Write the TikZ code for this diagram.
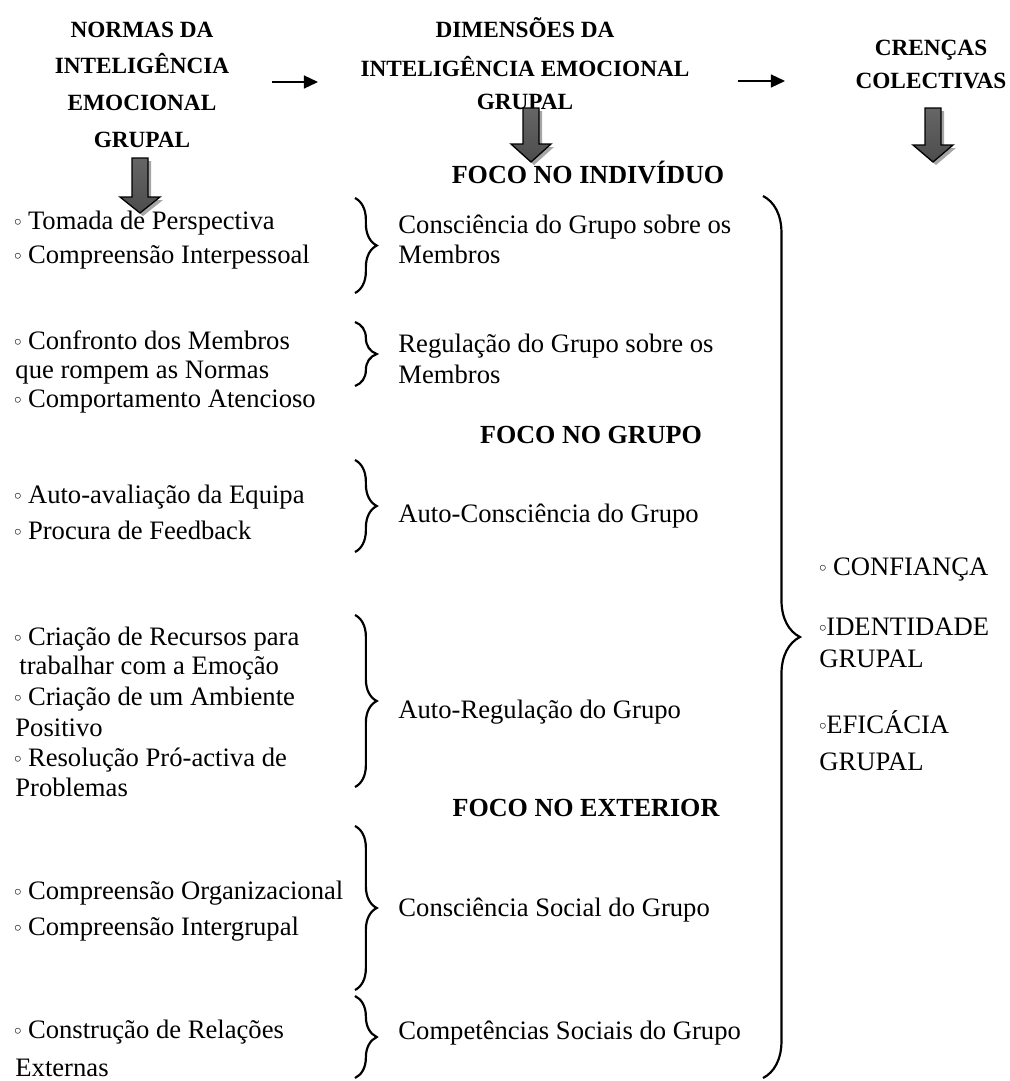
\documentclass[tikz,border=0pt]{standalone}
\usepackage{fontspec}
\setmainfont{Liberation Serif}
\newfontfamily\symfont{DejaVu Sans}
\usetikzlibrary{decorations.pathreplacing,arrows.meta}

\newcommand\bl{\makebox[3.2pt][c]{\symfont\fontsize{9}{9}\selectfont ◦}}

\tikzset{
  head/.style={anchor=base, inner sep=0pt, font=\fontsize{10.7}{12}\selectfont\bfseries},
  foco/.style={anchor=base, inner sep=0pt, font=\fontsize{12}{14}\selectfont\bfseries},
  item/.style={anchor=base west, inner sep=0pt, font=\fontsize{12.25}{14}\selectfont},
  grp/.style={decorate, decoration={brace, amplitude=10pt}, line width=1pt},
  bigbrace/.style={decorate, decoration={brace, amplitude=17pt}, line width=1pt},
  link/.style={-{Triangle[length=6.5pt,width=6pt]}, line width=0.7pt},
  blockshade/.style={draw=black, line width=0.6pt, top color=black!60, middle color=black!95, bottom color=black!70}
}

\begin{document}
\begin{tikzpicture}[x=0.46pt, y=-0.46pt]
\useasboundingbox (0,0) rectangle (1010,1081);

% headers
\foreach \y/\t [count=\k] in {37/NORMAS DA, 73/INTELIGÊNCIA, 110/EMOCIONAL, 147/GRUPAL}
    \node[head] (norm-\k) at (142,\y) {\t};
\foreach \y/\t [count=\k] in {37/DIMENSÕES DA, 76/INTELIGÊNCIA EMOCIONAL, 109/GRUPAL}
    \node[head] (dim-\k) at (525,\y) {\t};
\foreach \y/\t [count=\k] in {55/CRENÇAS, 88/COLECTIVAS}
    \node[head] (cren-\k) at (931,\y) {\t};

\node[foco] (indiv) at (588,183) {FOCO NO INDIVÍDUO};
\node[foco] (grupo) at (591,443) {FOCO NO GRUPO};
\node[foco] (exter) at (586,816) {FOCO NO EXTERIOR};

% normas
\foreach \x/\y/\t [count=\k] in {
    14/229/\bl\ Tomada de Perspectiva,
    14/263/\bl\ Compreensão Interpessoal,
    14/349/\bl\ Confronto dos Membros,
    15/378/que rompem as Normas,
    14/407/\bl\ Comportamento Atencioso,
    14/503/\bl\ Auto-avaliação da Equipa,
    14/539/\bl\ Procura de Feedback,
    14/645/\bl\ Criação de Recursos para,
    19/674/trabalhar com a Emoção,
    14/705/\bl\ Criação de um Ambiente,
    15/736/Positivo,
    14/766/\bl\ Resolução Pró-activa de,
    15/796/Problemas,
    14/899/\bl\ Compreensão Organizacional,
    14/935/\bl\ Compreensão Intergrupal,
    14/1038/\bl\ Construção de Relações,
    15/1076/Externas}
    \node[item] (n-\k) at (\x,\y) {\t};

% dimensoes
\foreach \y/\t [count=\k] in {
    233/Consciência do Grupo sobre os,
    263/Membros,
    352/Regulação do Grupo sobre os,
    383/Membros,
    522/Auto-Consciência do Grupo,
    718/Auto-Regulação do Grupo,
    916/Consciência Social do Grupo,
    1039/Competências Sociais do Grupo}
    \node[item] (d-\k) at (398,\y) {\t};

% crencas
\foreach \y/\t [count=\k] in {575/\bl\ CONFIANÇA, 635/\bl IDENTIDADE, 667/GRUPAL,
                               733/\bl EFICÁCIA, 770/GRUPAL}
    \node[item] (c-\k) at (819,\y) {\t};

% braces
\foreach \t/\b [count=\k] in {198/293, 322/386, 460/552, 615/787, 826/990, 996/1078} {
    \coordinate (bt-\k) at (355,\t);
    \coordinate (bb-\k) at (355,\b);
    \draw[grp] (bt-\k) -- (bb-\k);
}
\coordinate (top) at (763,196);
\coordinate (bot) at (763,1078);
\draw[bigbrace] (top) -- (bot);

% arrows
\coordinate (l1) at (272,82);
\coordinate (r1) at (318,82);
\coordinate (l2) at (738,81);
\coordinate (r2) at (785,81);
\draw[link] (l1) -- (r1);
\draw[link] (l2) -- (r2);

\foreach \ax/\at/\ab/\ah in {140/158/197/213, 531/108/144/162, 933/108/145/162} {
    \fill[black!35, shift={(3,3)}] (\ax-8,\at) -- (\ax+8,\at) -- (\ax+8,\ab) -- (\ax+20,\ab)
        -- (\ax,\ah) -- (\ax-20,\ab) -- (\ax-8,\ab) -- cycle;
    \shade[blockshade] (\ax-8,\at) -- (\ax+8,\at) -- (\ax+8,\ab) -- (\ax+20,\ab)
        -- (\ax,\ah) -- (\ax-20,\ab) -- (\ax-8,\ab) -- cycle;
}
\end{tikzpicture}
\end{document}
